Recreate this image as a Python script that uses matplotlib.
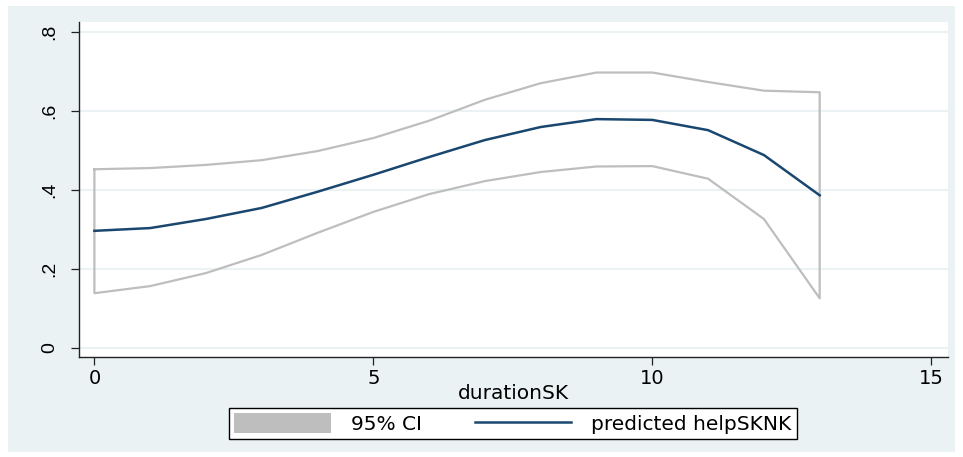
import matplotlib.pyplot as plt
from matplotlib.patches import Patch, Rectangle
from matplotlib.lines import Line2D

plt.rcParams['font.family'] = ['DejaVu Sans']

duration = [0, 1, 2, 3, 4, 5, 6, 7, 8, 9, 10, 11, 12, 13]
predicted = [0.296, 0.303, 0.326, 0.354, 0.395, 0.438, 0.483, 0.526, 0.559, 0.579, 0.577, 0.551, 0.488, 0.386]
ci_upper = [0.452, 0.455, 0.463, 0.475, 0.498, 0.531, 0.575, 0.628, 0.670, 0.697, 0.697, 0.673, 0.651, 0.647]
ci_lower = [0.138, 0.156, 0.189, 0.235, 0.291, 0.344, 0.389, 0.422, 0.445, 0.459, 0.460, 0.428, 0.326, 0.125]

yticks = [0, 0.2, 0.4, 0.6, 0.8]
ytick_labels = ["0", ".2", ".4", ".6", ".8"]
xticks = [0, 5, 10, 15]

bg = "#EAF2F3"
navy = "#1A476F"
ci_col = "#BEBEBE"

W, H = 963, 457
fig = plt.figure(figsize=(W / 100, H / 100), dpi=100, facecolor="white")
fig.add_artist(Rectangle((8 / W, 1 - 452 / H), (955 - 8) / W, (452 - 6) / H,
                         transform=fig.transFigure, facecolor=bg, edgecolor="none", zorder=-10))

ax = fig.add_axes([79 / W, 1 - 357 / H, (948 - 79) / W, (357 - 22) / H])
ax.set_zorder(1)
ax.set_facecolor("white")

# CI drawn as outline: upper, down the right end, back along lower, close
xs = duration + duration[::-1] + [duration[0]]
ys = ci_upper + ci_lower[::-1] + [ci_upper[0]]
ax.plot(xs, ys, color=ci_col, lw=1.6, zorder=2)
ax.plot(duration, predicted, color=navy, lw=1.8, zorder=3)

ax.set_xlim(-0.276, 15.3)
ax.set_ylim(-0.0236, 0.825)
ax.set_yticks(yticks)
ax.set_yticklabels(ytick_labels, rotation=90, va="center", family="Liberation Sans", fontsize=14)
ax.set_xticks(xticks)
ax.grid(axis="y", color=bg, lw=1.5, zorder=1)
ax.set_axisbelow(True)

for s in ["top", "right"]:
    ax.spines[s].set_visible(False)
for s in ["left", "bottom"]:
    ax.spines[s].set_color("#222222")
    ax.spines[s].set_linewidth(1.0)
ax.tick_params(axis="both", length=6, width=0.9, color="#222222")
ax.tick_params(axis="y", pad=9)
ax.tick_params(axis="x", pad=3, labelsize=14)
ax.set_xlabel("durationSK", fontsize=14.5, labelpad=-3)

handles = [Patch(facecolor=ci_col, edgecolor="none"),
           Line2D([0], [0], color=navy, lw=1.8)]
leg = fig.legend(handles, ["95% CI", "predicted helpSKNK"], loc="center",
                 bbox_to_anchor=(513 / W, 1 - 423.5 / H), ncol=2, fontsize=14.5,
                 frameon=True, fancybox=False, handlelength=4.8, handleheight=1.1,
                 columnspacing=2.6, handletextpad=1.0, borderpad=0.25,
                 borderaxespad=0, framealpha=1)
leg.set_zorder(5)
leg.get_frame().set_edgecolor("black")
leg.get_frame().set_linewidth(1.0)
leg.get_frame().set_facecolor("white")

fig.savefig("out.png", dpi=100, facecolor="white")
